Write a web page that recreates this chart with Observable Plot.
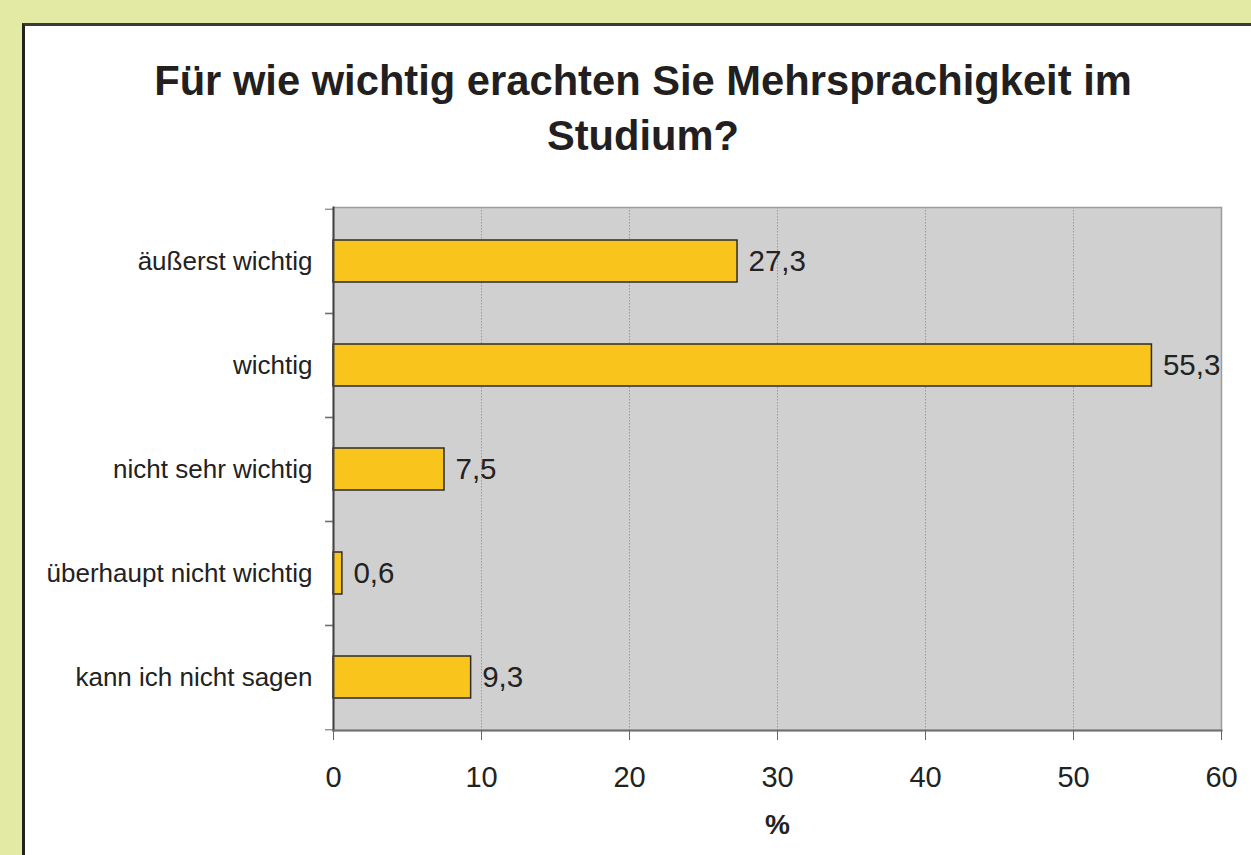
<!DOCTYPE html>
<html>
<head>
<meta charset="utf-8">
<script src="https://cdn.jsdelivr.net/npm/d3@7"></script>
<script src="https://cdn.jsdelivr.net/npm/@observablehq/plot@0.6"></script>
<style>
  html, body { margin: 0; padding: 0; width: 1251px; height: 855px; overflow: hidden; background: #e3eaa4; }
  #panel { position: absolute; left: 22px; top: 23px; width: 1300px; height: 900px; background: #fff;
           border-left: 3px solid #222; border-top: 3px solid #3a3a3a; }
  #title { position: absolute; left: 0; top: 53px; width: 1286px; text-align: center;
           font-family: "Liberation Sans", Arial, sans-serif; font-weight: bold; font-size: 41.7px;
           line-height: 55px; color: #231f20; }
  #chart { position: absolute; left: 0; top: 180px; }
</style>
</head>
<body>
<div id="panel"></div>
<div id="title">Für wie wichtig erachten Sie Mehrsprachigkeit im<br>Studium?</div>
<div id="chart"></div>
<script>
const categories = ["äußerst wichtig", "wichtig", "nicht sehr wichtig", "überhaupt nicht wichtig", "kann ich nicht sagen"];
const values = [27.3, 55.3, 7.5, 0.6, 9.3];
const xTicks = [0, 10, 20, 30, 40, 50, 60];
const xAxisLabel = "%";

const data = categories.map((c, i) => ({category: c, value: values[i]}));
const fmt = v => v.toFixed(1).replace(".", ",");

const W = 1251, H = 675, mT = 27, mB = 125, mL = 333, mR = 30;
const step = (H - mT - mB) / categories.length;

const chart = Plot.plot({
  width: W, height: H,
  marginTop: mT, marginBottom: mB, marginLeft: mL, marginRight: mR,
  style: {fontFamily: "'Liberation Sans', Arial, sans-serif", color: "#222", background: "transparent", overflow: "visible"},
  x: {domain: [0, 60], axis: null},
  y: {type: "band", domain: categories, padding: 0, axis: null},
  marks: [
    Plot.frame({fill: "#d0d0d0"}),
    Plot.gridX(xTicks.filter(d => d > 0 && d < 60), {stroke: "#999", strokeOpacity: 1, strokeDasharray: "1.5,1.5", strokeWidth: 1}),
    Plot.frame({stroke: "#9c9c9c", strokeWidth: 1.5}),
    Plot.barX(data, {x: "value", y: "category", fill: "#f9c51c", stroke: "#2b2b2b", strokeWidth: 1.5, insetTop: 31, insetBottom: 31}),
    Plot.text(data, {x: "value", y: "category", text: d => fmt(d.value), textAnchor: "start", dx: 11, fontSize: 29.5, fill: "#222"}),
    Plot.axisY({tickSize: 0, tickPadding: 21, fontSize: 26, label: null, fill: "#222"}),
    Plot.axisY({tickSize: 8, tickFormat: () => "", label: null, dy: step / 2, stroke: "#666"}),
    Plot.axisY({tickSize: 8, tickFormat: () => "", label: null, dy: -step / 2, stroke: "#666"}),
    Plot.frame({anchor: "left", stroke: "#444", strokeWidth: 2}),
    Plot.frame({anchor: "bottom", stroke: "#707070", strokeWidth: 2}),
    Plot.axisX({ticks: xTicks, tickSize: 10, tickPadding: 26, fontSize: 29, label: null, stroke: "#666", fill: "#222"}),
    Plot.text([xAxisLabel], {frameAnchor: "bottom", dy: 103, fontWeight: "bold", fontSize: 28, fill: "#222"})
  ]
});
document.getElementById("chart").appendChild(chart);
</script>
</body>
</html>
